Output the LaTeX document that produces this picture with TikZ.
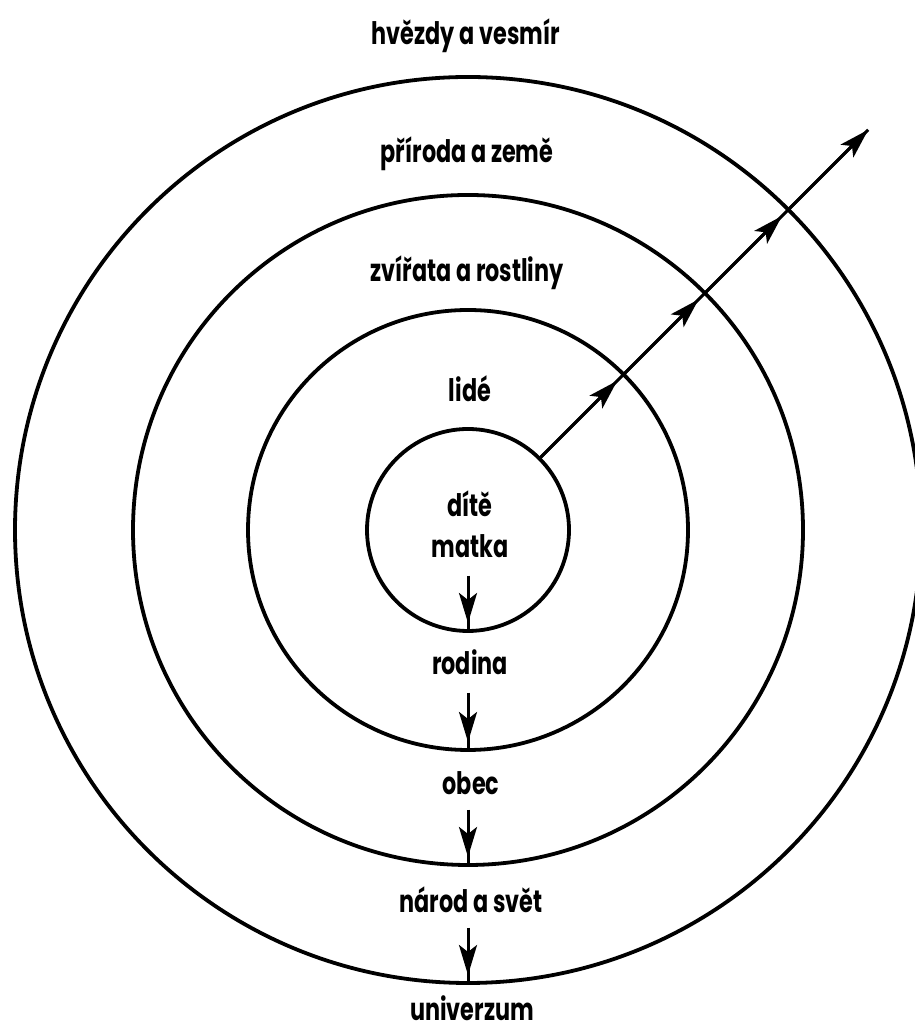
\documentclass[tikz,border=0pt]{standalone}
\usepackage{fontspec}
\newfontfamily\lab{Poppins}[FakeStretch=0.72]
\usetikzlibrary{arrows.meta,calc}
\begin{document}
\begin{tikzpicture}[x=1pt,y=1pt,
  ring/.style={circle,draw,line width=3.8pt,inner sep=0pt,outer sep=0pt,minimum size=#1},
  lbl/.style={anchor=base,inner sep=0pt,font=\lab\bfseries\fontsize{31}{33}\selectfont},
  conn/.style={line width=3pt},
  arr/.style={line width=3pt,-{Stealth[length=30pt,width=18pt,inset=7pt]}}
]
\useasboundingbox (0,0) rectangle (914,1032);
\coordinate (O) at (468,502);
\node[ring=202pt] (c1) at (O) {};
\node[ring=440pt] (c2) at (O) {};
\node[ring=670pt] (c3) at (O) {};
\node[ring=906pt] (c4) at (O) {};
% labels
\node[lbl] (t1) at (466,987) {hvězdy a vesmír};
\node[lbl] (t2) at (467,869) {příroda a země};
\node[lbl] (t3) at (467,750) {zvířata a rostliny};
\node[lbl] (t4) at (470,630) {lidé};
\node[lbl] (t5) at (470,515) {dítě};
\node[lbl] (t6) at (470,474) {matka};
\node[lbl] (t7) at (470,357) {rodina};
\node[lbl] (t8) at (471,237) {obec};
\node[lbl] (t9) at (471,119) {národ a svět};
\node[lbl] (t10) at (472,11) {univerzum};
% diagonal arrow
\coordinate (tip) at ($(O)+(45:566pt)$);
\draw[conn] (c1.45) -- (tip);
\draw[arr,shorten >=9pt] (c1.45) -- (c2.45);
\draw[arr,shorten >=9pt] (c2.45) -- (c3.45);
\draw[arr,shorten >=9pt] (c3.45) -- (c4.45);
\draw[arr] (c4.45) -- (tip);
% downward arrows
\coordinate (d1) at ($(c1.south)+(0,55)$);
\coordinate (d2) at ($(c2.south)+(0,57)$);
\coordinate (d3) at ($(c3.south)+(0,55)$);
\coordinate (d4) at ($(c4.south)+(0,55)$);
\foreach \d/\c in {d1/c1,d2/c2,d3/c3,d4/c4}{
  \draw[conn] (\d) -- (\c.south);
  \draw[arr,shorten >=8pt] (\d) -- (\c.south);
}
\end{tikzpicture}
\end{document}
